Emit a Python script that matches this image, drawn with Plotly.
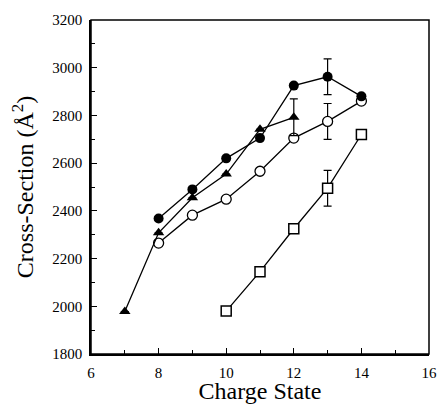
import plotly.graph_objects as go

# Data
x_filled = [8, 9, 10, 11, 12, 13, 14]
y_filled = [2368, 2490, 2620, 2705, 2925, 2962, 2880]
err_filled = [0, 0, 0, 0, 0, 75, 0]

x_tri = [7, 8, 9, 10, 11, 12]
y_tri = [1978, 2308, 2455, 2554, 2742, 2792]
err_tri = [0, 0, 0, 0, 0, 77]

x_open = [8, 9, 10, 11, 12, 13, 14]
y_open = [2265, 2382, 2449, 2566, 2705, 2775, 2860]
err_open = [0, 0, 0, 0, 0, 75, 0]

x_sq = [10, 11, 12, 13, 14]
y_sq = [1980, 2145, 2325, 2495, 2720]
err_sq = [0, 0, 0, 75, 0]

FONT = "Liberation Serif"

def eb(arr):
    return dict(type="data", array=arr, visible=True, color="black",
                thickness=1.2, width=4)

fig = go.Figure()
fig.add_trace(go.Scatter(
    x=x_sq, y=y_sq, mode="lines+markers", error_y=eb(err_sq),
    line=dict(color="black", width=1.3),
    marker=dict(symbol="square", size=10, color="white",
                line=dict(color="black", width=1.5))))
fig.add_trace(go.Scatter(
    x=x_open, y=y_open, mode="lines+markers", error_y=eb(err_open),
    line=dict(color="black", width=1.3),
    marker=dict(symbol="circle", size=10, color="white",
                line=dict(color="black", width=1.3))))
fig.add_trace(go.Scatter(
    x=x_tri, y=y_tri, mode="lines+markers", error_y=eb(err_tri),
    line=dict(color="black", width=1.3),
    marker=dict(symbol="triangle-up", size=10, color="black")))
fig.add_trace(go.Scatter(
    x=x_filled, y=y_filled, mode="lines+markers", error_y=eb(err_filled),
    line=dict(color="black", width=1.3),
    marker=dict(symbol="circle", size=10, color="black")))

fig.update_layout(
    width=437, height=404,
    margin=dict(l=91, r=8, t=20, b=50, autoexpand=False),
    paper_bgcolor="white", plot_bgcolor="white",
    showlegend=False,
    font=dict(family=FONT, color="black", size=15),
    shapes=[dict(type="rect", xref="paper", yref="paper", x0=0, x1=1, y0=0, y1=1,
                 line=dict(color="black", width=1.5), layer="above")],
)
fig.update_xaxes(
    range=[6, 16], dtick=2, tick0=6,
    ticks="inside", ticklen=6, tickwidth=1, tickcolor="black",
    minor=dict(dtick=1, ticks="inside", ticklen=4, tickcolor="black"),
    showline=True, linecolor="black", linewidth=1.5,
    showgrid=False, zeroline=False, automargin=False,
    tickfont=dict(family=FONT, size=15), ticklabelstandoff=4,
    ticklabeloverflow="allow",
    title=dict(text="Charge State", font=dict(family=FONT, size=24), standoff=6),
)
fig.update_yaxes(
    range=[1800, 3200], dtick=200, tick0=1800,
    ticks="inside", ticklen=6, tickwidth=1, tickcolor="black",
    minor=dict(dtick=100, ticks="inside", ticklen=4, tickcolor="black"),
    showline=True, linecolor="black", linewidth=1.5,
    showgrid=False, zeroline=False, automargin=False,
    tickfont=dict(family=FONT, size=15), ticklabelstandoff=4,
    ticklabeloverflow="allow",
    title=dict(text="Cross-Section (Å<sup>2</sup>)", font=dict(family=FONT, size=24), standoff=12),
)
fig.write_html("out.html",
               config={"displayModeBar": False},
               post_script="document.body.style.margin='0';document.body.style.overflow='hidden';")
